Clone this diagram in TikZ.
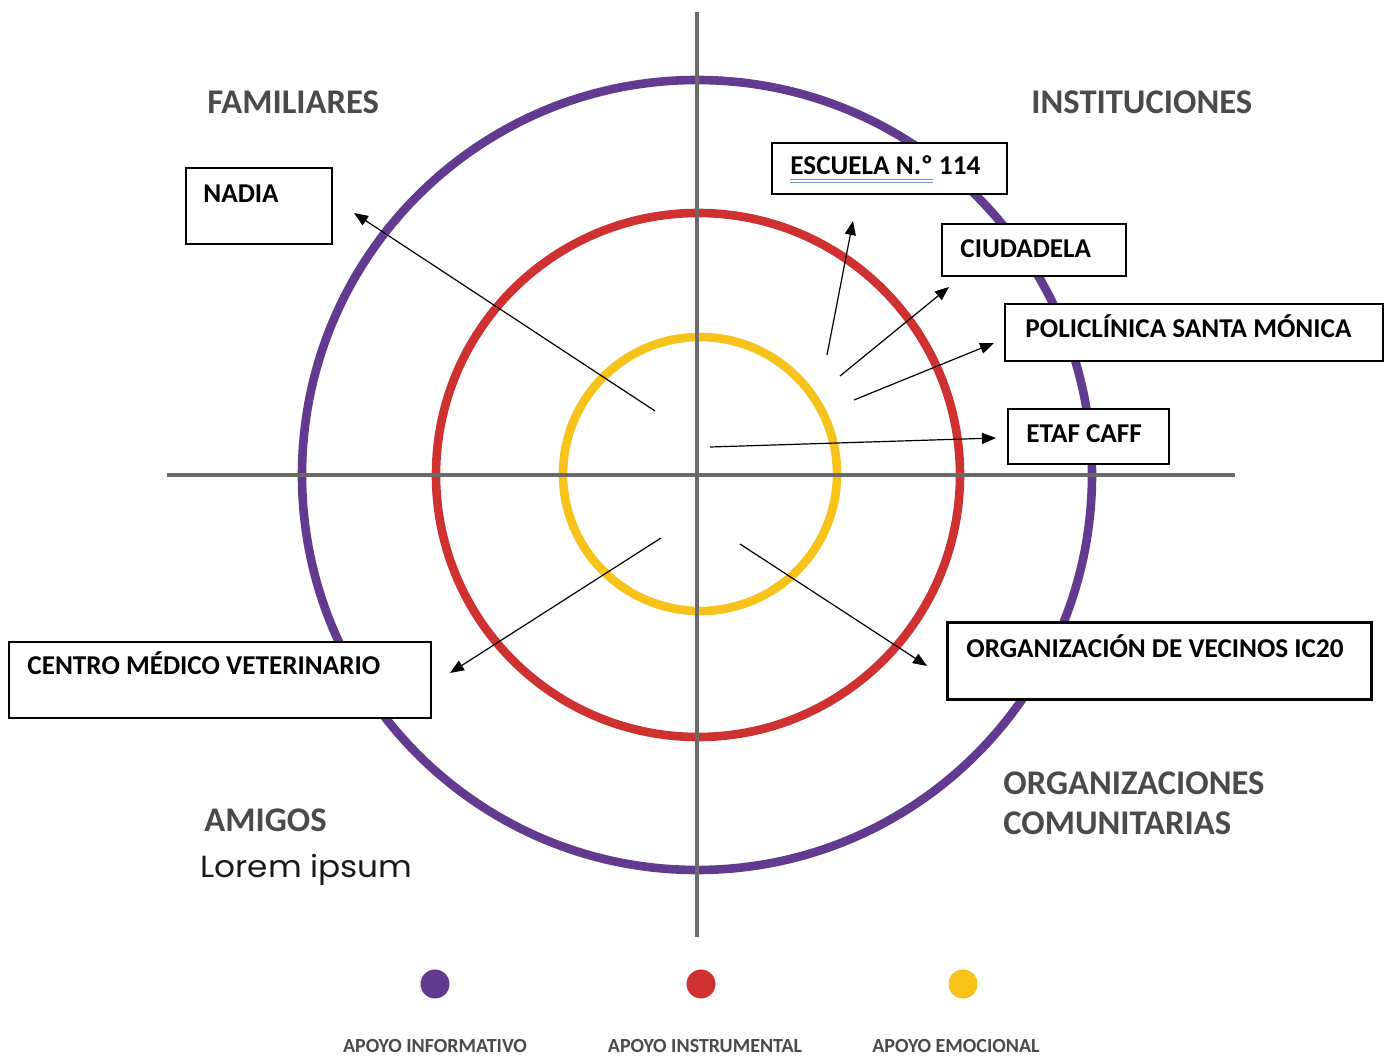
\documentclass[tikz,border=0pt]{standalone}
\usepackage{fontspec}
\setmainfont{Carlito}
\newfontfamily\popfont[FakeStretch=1.07]{Poppins}
\usetikzlibrary{arrows.meta}
\definecolor{purp}{HTML}{623A90}
\definecolor{redc}{HTML}{CF3130}
\definecolor{yelc}{HTML}{F7C21A}
\definecolor{axisgray}{HTML}{6A6A6A}
\definecolor{headgray}{HTML}{4A4A4A}
\definecolor{ulblue}{HTML}{7090D0}
\tikzset{
  ring/.style={line width=4.3pt},
  axisline/.style={axisgray, line width=2.2pt},
  boxst/.style={draw=black, line width=0.9pt, fill=white, inner sep=0pt, anchor=north west},
  boxtxt/.style={font=\fontsize{13.6}{15}\selectfont\bfseries, inner sep=0pt, anchor=base west},
  heading/.style={font=\fontsize{17.3}{21}\selectfont\bfseries, text=headgray, inner sep=0pt, anchor=base west},
  legtxt/.style={font=\fontsize{10}{12}\selectfont\bfseries, text=headgray, inner sep=0pt, anchor=base},
  arr/.style={line width=0.6pt, -{Triangle[length=7pt,width=5.5pt]}},
  dot/.style={circle, inner sep=0pt, minimum size=14.5pt}
}
\begin{document}
\begin{tikzpicture}[x=0.5pt,y=-0.5pt]
\useasboundingbox (0,0) rectangle (1389,1058);
\fill[white] (0,0) rectangle (1389,1058);
% rings
\draw[ring, purp] (697,475) circle[radius=395];
\draw[ring, redc] (698,475) circle[radius=262];
\draw[ring, yelc] (700,474) circle[radius=137];
% axes
\draw[axisline] (697,12) -- (697,937);
\draw[axisline] (167,475) -- (1235,475);
% headings
\node[heading] (hfam) at (207,114) {FAMILIARES};
\node[heading] (hins) at (1031,114) {INSTITUCIONES};
\node[heading] (hami) at (204,832) {AMIGOS};
\node[heading] (horg1) at (1003,795) {ORGANIZACIONES};
\node[heading] (horg2) at (1003,835) {COMUNITARIAS};
\node[inner sep=0pt, anchor=base west, font=\popfont\fontsize{15.3}{18}\selectfont, text=black!90] (lorem) at (200,878) {Lorem ipsum};
% boxes
\node[boxst, minimum width=73pt, minimum height=38pt] (nadia) at (185,167) {};
\node[boxtxt] (tnadia) at (203,203) {NADIA};
\node[boxst, minimum width=211pt, minimum height=38pt] (centro) at (8,641) {};
\node[boxtxt] (tcentro) at (27,675) {CENTRO MÉDICO VETERINARIO};
\node[boxst, line width=1.4pt, minimum width=212pt, minimum height=38.5pt] (org) at (946,621) {};
\node[boxtxt] (torg) at (966,658) {ORGANIZACIÓN DE VECINOS IC20};
\node[boxst, minimum width=117.5pt, minimum height=25.5pt] (esc) at (771,142) {};
\node[boxtxt] (tesc) at (790,175) {ESCUELA N.º 114};
\draw[ulblue, line width=0.5pt] (790,179.5) -- (933,179.5);
\draw[ulblue, line width=0.5pt] (790,182.5) -- (933,182.5);
\node[boxst, minimum width=92pt, minimum height=26pt] (ciu) at (941,223) {};
\node[boxtxt] (tciu) at (960,258) {CIUDADELA};
\node[boxst, minimum width=189pt, minimum height=28.5pt] (pol) at (1004,303) {};
\node[boxtxt] (tpol) at (1025,338) {POLICLÍNICA SANTA MÓNICA};
\node[boxst, minimum width=80.5pt, minimum height=27.5pt] (etaf) at (1007,408) {};
\node[boxtxt] (tetaf) at (1026,443) {ETAF CAFF};
% arrow ends
\coordinate (s1) at (655,411); \coordinate (e1) at (354,213);
\coordinate (s2) at (827,355); \coordinate (e2) at (853,221);
\coordinate (s3) at (840,376); \coordinate (e3) at (949,287);
\coordinate (s4) at (854,400); \coordinate (e4) at (994,343);
\coordinate (s5) at (710,447); \coordinate (e5) at (996,438);
\coordinate (s6) at (661,538); \coordinate (e6) at (450,673);
\coordinate (s7) at (740,544); \coordinate (e7) at (927,666);
\draw[arr] (s1) -- (e1);
\draw[arr] (s2) -- (e2);
\draw[arr] (s3) -- (e3);
\draw[arr] (s4) -- (e4);
\draw[arr] (s5) -- (e5);
\draw[arr] (s6) -- (e6);
\draw[arr] (s7) -- (e7);
% legend
\node[dot, fill=purp] (d1) at (435,984) {};
\node[dot, fill=redc] (d2) at (701,984) {};
\node[dot, fill=yelc] (d3) at (963,984) {};
\node[legtxt] (l1) at (435,1053) {APOYO INFORMATIVO};
\node[legtxt] (l2) at (705,1053) {APOYO INSTRUMENTAL};
\node[legtxt] (l3) at (956,1053) {APOYO EMOCIONAL};
\end{tikzpicture}
\end{document}
